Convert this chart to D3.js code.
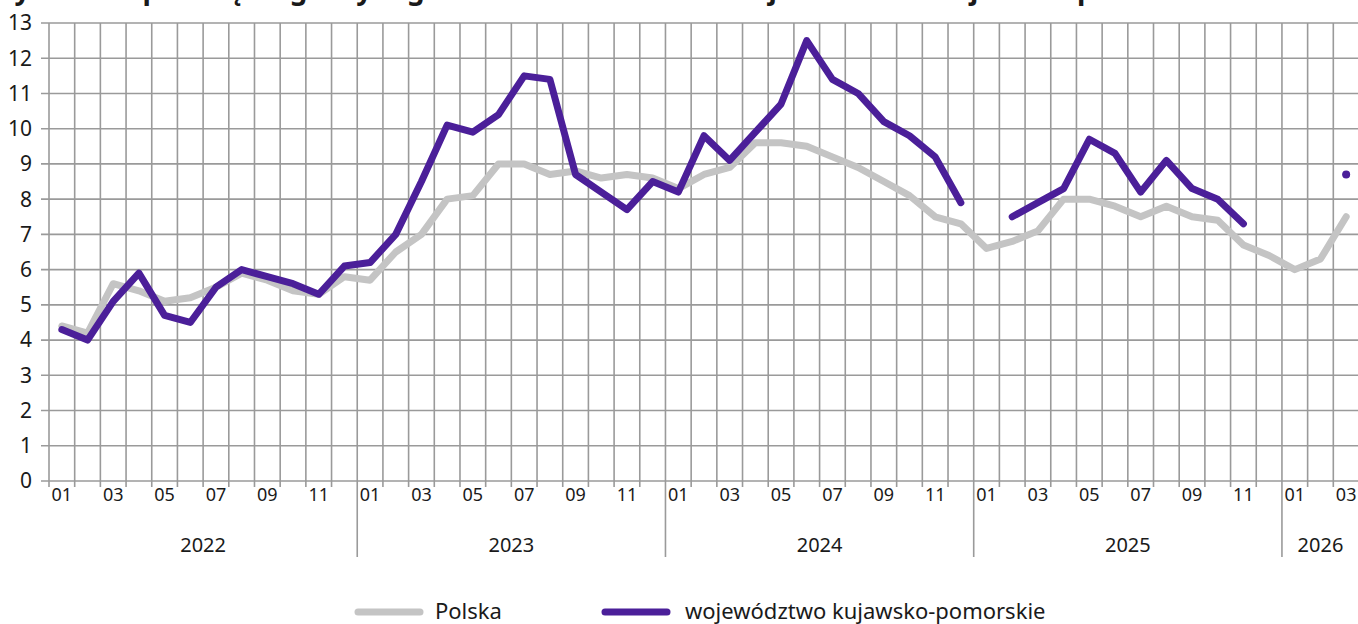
<!DOCTYPE html>
<meta charset="utf-8">
<script src="https://d3js.org/d3.v7.min.js"></script>
<style>
  body { margin: 0; background: #fff; }
  text { font-family: "Noto Sans", sans-serif; fill: #1a1a1a; }
</style>
<div id="chart"></div>
<script>

// years shown on the axis, month labels are 01..12
var years = [2022, 2023, 2024, 2025, 2026];
var lastYearMonths = 3;

// Polska
var polska = [
  4.4, 4.2, 5.6, 5.4, 5.1, 5.2, 5.5, 5.9, 5.7, 5.4, 5.3, 5.8,
  5.7, 6.5, 7.0, 8.0, 8.1, 9.0, 9.0, 8.7, 8.8, 8.6, 8.7, 8.6,
  8.3, 8.7, 8.9, 9.6, 9.6, 9.5, 9.2, 8.9, 8.5, 8.1, 7.5, 7.3,
  6.6, 6.8, 7.1, 8.0, 8.0, 7.8, 7.5, 7.8, 7.5, 7.4, 6.7, 6.4,
  6.0, 6.3, 7.5
];

// województwo kujawsko-pomorskie (null = brak danych)
var kujawskoPomorskie = [
  4.3, 4.0, 5.1, 5.9, 4.7, 4.5, 5.5, 6.0, 5.8, 5.6, 5.3, 6.1,
  6.2, 7.0, 8.5, 10.1, 9.9, 10.4, 11.5, 11.4, 8.7, 8.2, 7.7, 8.5,
  8.2, 9.8, 9.1, 9.9, 10.7, 12.5, 11.4, 11.0, 10.2, 9.8, 9.2, 7.9,
  null, 7.5, 7.9, 8.3, 9.7, 9.3, 8.2, 9.1, 8.3, 8.0, 7.3, null,
  null, null, 8.7
];

var yTicks = d3.range(0, 14);

// build the month categories
var months = [];
years.forEach(function(y, k) {
  var n = (k == years.length - 1) ? lastYearMonths : 12;
  for (var m = 1; m <= n; m++) months.push(y + "-" + (m < 10 ? "0" + m : m));
});

var W = 1358, H = 624;
var margin = {top: 23, left: 49},
    width = 1310,
    height = 458;

var svg = d3.select("#chart")
  .append("svg")
    .attr("width", W)
    .attr("height", H);

// title (cut off at the top, as in the source - only descenders show)
svg.append("text")
  .attr("x", -6)
  .attr("y", -1)
  .style("font-size", "28px")
  .style("font-weight", "bold")
  .text("Dynamika przeciętnego wynagrodzenia w Polsce i w województwie kujawsko-pomorskim");

var x = d3.scaleBand()
  .domain(months)
  .range([margin.left, margin.left + width])
  .paddingInner(0).paddingOuter(0);

var y = d3.scaleLinear()
  .domain([0, 13])
  .range([margin.top + height, margin.top]);

var grid = svg.append("g");

// horizontal grid lines
grid.selectAll("line.h")
  .data(yTicks)
  .enter()
  .append("line")
    .attr("x1", margin.left - 8)
    .attr("x2", margin.left + width)
    .attr("y1", function(d) { return y(d); })
    .attr("y2", function(d) { return y(d); })
    .attr("stroke", "#9a9a9a")
    .attr("stroke-width", 1.6);

// vertical grid lines at month boundaries, longer at year boundaries
grid.selectAll("line.v")
  .data(d3.range(0, months.length + 1))
  .enter()
  .append("line")
    .attr("x1", function(i) { return margin.left + i * x.bandwidth(); })
    .attr("x2", function(i) { return margin.left + i * x.bandwidth(); })
    .attr("y1", margin.top)
    .attr("y2", function(i) {
      var isYear = i > 0 && i < months.length && months[i].slice(5) == "01";
      return isYear ? 557 : y(0) + 6;
    })
    .attr("stroke", "#9a9a9a")
    .attr("stroke-width", 1.6);

// y labels
svg.append("g").selectAll("text")
  .data(yTicks)
  .enter()
  .append("text")
    .attr("x", 32)
    .attr("y", function(d) { return y(d); })
    .attr("dy", "0.35em")
    .attr("text-anchor", "end")
    .style("font-size", "21px")
    .text(function(d) { return d; });

// month labels, every second month
svg.append("g").selectAll("text")
  .data(months.filter(function(m) { return +m.slice(5) % 2 == 1; }))
  .enter()
  .append("text")
    .attr("x", function(d) { return x(d) + x.bandwidth() / 2; })
    .attr("y", 501)
    .attr("text-anchor", "middle")
    .style("font-size", "18px")
    .text(function(d) { return d.slice(5); });

// year labels, centred under their months
svg.append("g").selectAll("text")
  .data(years)
  .enter()
  .append("text")
    .attr("x", function(yr) {
      var ms = months.filter(function(m) { return m.slice(0, 4) == yr; });
      return (x(ms[0]) + x(ms[ms.length - 1]) + x.bandwidth()) / 2;
    })
    .attr("y", 552)
    .attr("text-anchor", "middle")
    .style("font-size", "20px")
    .text(function(d) { return d; });

var series = [
  {name: "Polska", values: polska, color: "#c4c4c4"},
  {name: "województwo kujawsko-pomorskie", values: kujawskoPomorskie, color: "#4b1f99"}
];

var line = d3.line()
  .defined(function(d) { return d.v != null; })
  .x(function(d) { return x(d.m) + x.bandwidth() / 2; })
  .y(function(d) { return y(d.v); });

series.forEach(function(s) {
  var pts = months.map(function(m, i) { return {m: m, v: s.values[i]}; });
  svg.append("path")
    .datum(pts)
    .attr("fill", "none")
    .attr("stroke", s.color)
    .attr("stroke-width", 7)
    .attr("stroke-linejoin", "round")
    .attr("stroke-linecap", "round")
    .attr("d", line);

  // single points without neighbours get a dot
  svg.selectAll(null)
    .data(pts.filter(function(d, i) {
      return d.v != null &&
        (i == 0 || pts[i - 1].v == null) &&
        (i == pts.length - 1 || pts[i + 1].v == null);
    }))
    .enter()
    .append("circle")
      .attr("cx", function(d) { return x(d.m) + x.bandwidth() / 2; })
      .attr("cy", function(d) { return y(d.v); })
      .attr("r", 4)
      .attr("fill", s.color);
});

// legend
var legendX = [358, 605];
var legendTextX = [435, 685];
var legend = svg.append("g");
series.forEach(function(s, i) {
  legend.append("line")
    .attr("x1", legendX[i]).attr("x2", legendX[i] + 62)
    .attr("y1", 612).attr("y2", 612)
    .attr("stroke", s.color)
    .attr("stroke-width", 7)
    .attr("stroke-linecap", "round");
  legend.append("text")
    .attr("x", legendTextX[i])
    .attr("y", 619)
    .style("font-size", "22px")
    .text(s.name);
});

</script>
